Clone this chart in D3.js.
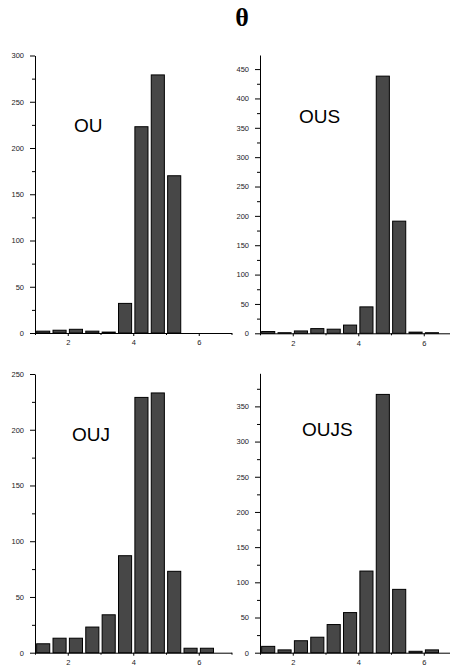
<!DOCTYPE html>
<html>
<head>
<meta charset="utf-8">
<script src="https://cdn.jsdelivr.net/npm/d3@7"></script>
<style>
  body { margin: 0; background: #fff; }
  .tick text { font-family: "Liberation Sans", Arial, sans-serif; font-size: 7.5px; fill: #222; }
  .axis path, .axis line { stroke: #000; }
</style>
</head>
<body>
<div id="chart"></div>
<script>
// bin centres (theta), bin width 0.5
var bins = [1.25, 1.75, 2.25, 2.75, 3.25, 3.75, 4.25, 4.75, 5.25, 5.75, 6.25];

var ou   = [2, 3, 4, 2, 1, 32, 223, 279, 170, 0, 0];
var ous  = [3, 1, 4, 8, 7, 14, 45, 438, 191, 2, 1];
var ouj  = [8, 13, 13, 23, 34, 87, 229, 233, 73, 4, 4];
var oujs = [9, 4, 17, 22, 40, 57, 116, 367, 90, 2, 4];

var names = ["OU", "OUS", "OUJ", "OUJS"];
var yMax = [300, 474, 250, 397];
var xMajor = [2, 4, 6];
var xMinor = [1, 3, 5, 7];

var width = 450, height = 668;

var svg = d3.select("#chart").append("svg")
    .attr("width", width)
    .attr("height", height);

svg.append("rect").attr("width", width).attr("height", height).attr("fill", "#fff");

svg.append("text")
    .attr("x", 242)
    .attr("y", 26)
    .attr("text-anchor", "middle")
    .style("font-family", "'Liberation Serif', 'DejaVu Serif', serif")
    .style("font-size", "26px")
    .style("font-weight", "bold")
    .text("θ");

// panel layout: left of plot, baseline, top of axis, label position
var panels = [
    { values: ou,   left: 35,  bottom: 333,   top: 55.5, lx: 74,  ly: 132 },
    { values: ous,  left: 260, bottom: 333.3, top: 55,   lx: 299, ly: 123 },
    { values: ouj,  left: 35,  bottom: 652.7, top: 374,  lx: 72,  ly: 441 },
    { values: oujs, left: 260, bottom: 652.7, top: 373.3, lx: 302, ly: 436 }
];

panels.forEach(function (p, i) {
    var x = d3.scaleLinear().domain([1, 7]).range([p.left, p.left + 196.5]);
    var y = d3.scaleLinear().domain([0, yMax[i]]).range([p.bottom, p.top]);

    var g = svg.append("g").style("color", "#000");

    g.selectAll(".bar")
        .data(bins.map(function (b, j) { return { bin: b, value: p.values[j] }; })
            .filter(function (d) { return d.value > 0; }))
        .enter().append("rect")
        .attr("class", "bar")
        .attr("x", function (d) { return x(d.bin - 0.2); })
        .attr("width", function (d) { return x(d.bin + 0.2) - x(d.bin - 0.2); })
        .attr("y", function (d) { return y(d.value); })
        .attr("height", function (d) { return y(0) - y(d.value); })
        .attr("fill", "#474747")
        .attr("stroke", "#000")
        .attr("stroke-width", 1);

    var major = d3.range(0, yMax[i] + 1, 50);
    var minor = d3.range(25, yMax[i] + 1, 50);

    g.append("g")
        .attr("class", "axis")
        .attr("transform", "translate(" + p.left + ",0)")
        .call(d3.axisLeft(y).tickValues(minor).tickSize(3).tickFormat(""))
        .select(".domain").remove();

    g.append("g")
        .attr("class", "axis")
        .attr("transform", "translate(" + p.left + ",0)")
        .call(d3.axisLeft(y).tickValues(major).tickSize(5).tickPadding(6).tickSizeOuter(0));

    g.append("g")
        .attr("class", "axis")
        .attr("transform", "translate(0," + p.bottom + ")")
        .call(d3.axisBottom(x).tickValues(xMinor).tickSize(2).tickFormat(""))
        .select(".domain").remove();

    g.append("g")
        .attr("class", "axis")
        .attr("transform", "translate(0," + p.bottom + ")")
        .call(d3.axisBottom(x).tickValues(xMajor).tickSize(3).tickPadding(4)
            .tickSizeOuter(0).tickFormat(d3.format("d")));

    g.append("text")
        .attr("x", p.lx)
        .attr("y", p.ly)
        .style("font-family", "'Liberation Sans', Arial, sans-serif")
        .style("font-size", "19px")
        .text(names[i]);
});
</script>
</body>
</html>
